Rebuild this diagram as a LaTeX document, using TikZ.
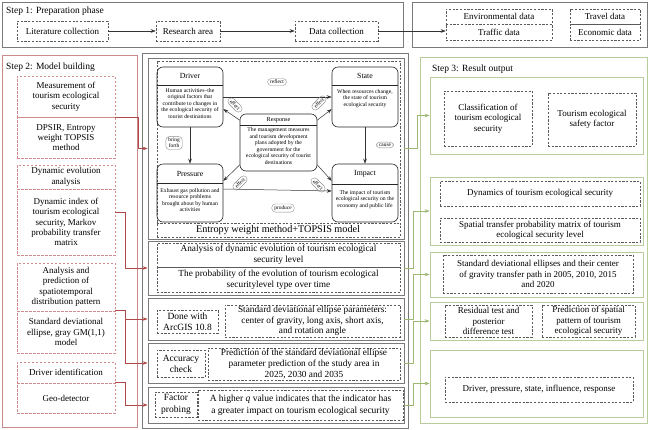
\documentclass[tikz,border=0pt]{standalone}
\usepackage{fontspec}
\setmainfont{Liberation Serif}
\usetikzlibrary{arrows.meta}
\definecolor{gboxc}{HTML}{7A7A7A}
\definecolor{gdashc}{HTML}{5A5A5A}
\definecolor{rboxc}{HTML}{C98A8A}
\definecolor{rdashc}{HTML}{D08C8C}
\definecolor{rlinec}{HTML}{B04A4A}
\definecolor{grboxc}{HTML}{B9CC9C}
\definecolor{grlinec}{HTML}{9DB873}
\tikzset{
  corners/.style n args={4}{minimum width={#3-#1}, minimum height={#4-#2}, at={({(#1+#3)/2},{(#2+#4)/2})}},
  fbox/.style={inner sep=0pt, align=center, font=\fontsize{9}{10.4}\selectfont},
  mfont/.style={font=\fontsize{9.3}{10.6}\selectfont},
  graybox/.style={fbox, draw=gboxc, line width=0.8pt},
  gdash/.style={fbox, draw=gdashc, dash pattern=on 2.2pt off 1.5pt, line width=0.55pt},
  rbox/.style={fbox, draw=rboxc, line width=0.8pt},
  rdash/.style={fbox, draw=rdashc, dash pattern=on 2.5pt off 1.5pt, line width=0.6pt},
  grbox/.style={fbox, draw=grboxc, line width=0.8pt},
  karr/.style={draw=black!80, line width=0.5pt, -{Stealth[length=5pt,width=3.6pt]}},
  rarr/.style={draw=rlinec, line width=0.6pt, -{Stealth[length=5pt,width=3.6pt]}},
  garr/.style={draw=grlinec, line width=0.6pt, -{Stealth[length=5pt,width=3.6pt]}},
  dbox/.style={draw=black!85, line width=0.6pt, rounded corners=6pt, inner sep=0pt},
  dtitle/.style={inner sep=0pt, font=\fontsize{7.8}{8.5}\selectfont},
  dbody/.style={inner sep=0pt, align=center, font=\fontsize{5.7}{6.5}\selectfont},
  pill/.style={draw=black!45, line width=0.4pt, rounded corners=3.5pt, inner xsep=2.5pt, inner ysep=1.6pt, align=center, font=\fontsize{5.4}{5.9}\selectfont},
  steplabel/.style={inner sep=0pt, anchor=west, font=\fontsize{9.5}{11}\selectfont},
}
\begin{document}
\begin{tikzpicture}[x=1pt,y=-1pt]
\useasboundingbox (0,0) rectangle (650,429);
% ---------------- Step 1 ----------------
\node[graybox, corners={2}{2}{403}{47}] (st1) {};
\node[steplabel] (st1lab) at (6,11) {Step 1: Preparation phase};
\node[gdash, corners={17}{21}{108}{41}] (lit) {Literature collection};
\node[gdash, corners={156}{21}{220}{41}] (area) {Research area};
\node[gdash, corners={295}{21}{378}{41}] (data) {Data collection};
\node[graybox, corners={412}{2}{647}{47}] (rtop) {};
\node[gdash, corners={446}{9}{552}{24}] (env) {Environmental data};
\node[gdash, corners={446}{24}{552}{40}] (traffic) {Traffic data};
\node[gdash, corners={570}{9}{640}{24}] (travel) {Travel data};
\node[gdash, corners={570}{24}{640}{40}] (econ) {Economic data};
\draw[karr] (lit) -- (area);
\draw[karr] (area) -- (data);
\draw[karr] (data.east) -- (data.east -| traffic.west);
% ---------------- Step 2 ----------------
\node[rbox, corners={2}{55}{137}{427}] (st2) {};
\node[steplabel] (st2lab) at (6,67) {Step 2: Model building};
\node[rdash, corners={17}{76}{115}{117}] (meas) {Measurement of\\tourism ecological\\security};
\node[rdash, corners={17}{117}{115}{158}] (dpsir) {DPSIR, Entropy\\weight TOPSIS\\method};
\node[rdash, corners={17}{165}{115}{189}] (dyn) {Dynamic evolution\\analysis};
\node[rdash, corners={17}{189}{115}{255}] (dynidx) {Dynamic index of\\tourism ecological\\security, Markov\\probability transfer\\matrix};
\node[rdash, corners={17}{263}{115}{311}] (anal) {Analysis and\\prediction of\\spatiotemporal\\distribution pattern};
\node[rdash, corners={17}{311}{115}{353}] (sde) {Standard deviational\\ellipse, gray GM(1,1)\\model};
\node[rdash, corners={17}{362}{115}{383}] (drvid) {Driver identification};
\node[rdash, corners={17}{383}{115}{413}] (geo) {Geo-detector};
% ---------------- Middle ----------------
\node[graybox, corners={142}{53}{408}{428}] (mid) {};
\node[graybox, corners={148}{58}{404}{239}] (p1) {};
\node[graybox, corners={148}{241}{404}{295}] (p2) {};
\node[graybox, corners={148}{298}{404}{340}] (p3) {};
\node[graybox, corners={148}{343}{404}{383}] (p4) {};
\node[graybox, corners={148}{387}{404}{423}] (p5) {};
% DPSIR panel
\node[gdash, corners={157}{61}{400}{237}] (p1d) {};
\draw[gdashc, dash pattern=on 2.2pt off 1.5pt, line width=0.55pt] (p1d.west |- 0,223) -- (p1d.east |- 0,223);
\node[inner sep=0pt, font=\fontsize{10.2}{12}\selectfont] (ewm) at (278,230.5) {Entropy weight method+TOPSIS model};
\node[dbox, corners={157}{67}{223}{127}] (driver) {};
\node[dbox, corners={332}{67}{398}{127}] (state) {};
\node[dbox, corners={157}{164}{223}{222}] (pressure) {};
\node[dbox, corners={332}{164}{398}{222}] (impact) {};
\node[dbox, corners={240}{114}{317}{171}] (response) {};
\draw[black!85, line width=0.5pt] (driver.west |- 0,85) -- (driver.east |- 0,85);
\draw[black!85, line width=0.5pt] (state.west |- 0,85) -- (state.east |- 0,85);
\draw[black!85, line width=0.5pt] (pressure.west |- 0,183) -- (pressure.east |- 0,183);
\draw[black!85, line width=0.5pt] (impact.west |- 0,184) -- (impact.east |- 0,184);
\draw[black!85, line width=0.5pt] (response.west |- 0,125) -- (response.east |- 0,125);
\node[dtitle] (drivert) at (190,76) {Driver};
\node[dtitle] (statet) at (365,76) {State};
\node[dtitle] (pressuret) at (190,173.5) {Pressure};
\node[dtitle] (impactt) at (365,174) {Impact};
\node[dtitle, font=\fontsize{6.2}{7}\selectfont] (responset) at (278.5,120) {Response};
\node[dbody, anchor=north] (driverb) at (190,88) {Human activities--the\\original factors that\\contribute to changes in\\the ecological security of\\tourist destinations};
\node[dbody, anchor=north] (stateb) at (365,89) {When resources change,\\the state of tourism\\ecological security};
\node[dbody, anchor=north] (pressureb) at (190,188) {Exhaust gas pollution and\\resource problems\\brought about by human\\activities};
\node[dbody, anchor=north] (impactb) at (365,190) {The impact of tourism\\ecological security on the\\economy and public life};
\node[dbody, anchor=north] (responseb) at (278.5,127.5) {The management measures\\and tourism development\\plans adopted by the\\government for the\\ecological security of tourist\\destinations};
\draw[karr] (driver) -- (state);
\draw[karr] (driver) -- (pressure);
\draw[karr] (state) -- (impact);
\draw[karr] ([yshift=4pt]pressure.east) -- ([yshift=2pt]impact.west);
\draw[karr] (response.150) -- (driver.-20);
\draw[karr] (response.30) -- (state.200);
\draw[karr] (response.210) -- (pressure.20);
\draw[karr] (response.-30) -- (impact.160);
\node[pill] (reflect) at (277,82) {reflect};
\node[pill] (bring) at (174,143) {bring\\forth};
\node[pill] (cause) at (385,145) {cause};
\node[pill] (produce) at (283,208) {produce};
\node[pill, rotate=-45] (eff1) at (235,105) {effect};
\node[pill, rotate=45] (eff2) at (319,103) {effect};
\node[pill, rotate=45] (eff3) at (240,183) {effect};
\node[pill, rotate=-45] (eff4) at (318,185) {effect};
% other middle panels
\node[gdash, mfont, corners={157}{243}{400}{267}] (p2a) {Analysis of dynamic evolution of tourism ecological\\security level};
\node[gdash, mfont, corners={157}{267}{400}{292}] (p2b) {The probability of the evolution of tourism ecological\\securitylevel type over time};
\node[gdash, font=\fontsize{9.5}{11}\selectfont, corners={157}{310}{218}{333}] (arcgis) {Done with\\ArcGIS 10.8};
\node[gdash, mfont, corners={225}{305}{400}{337}] (sdep) {Standard deviational ellipse parameters:\\center of gravity, long axis, short axis,\\and rotation angle};
\node[gdash, font=\fontsize{9.5}{11}\selectfont, corners={157}{350}{205}{377}] (acc) {Accuracy\\check};
\node[gdash, mfont, corners={208}{348}{400}{380}] (pred) {Prediction of the standard deviational ellipse\\parameter prediction of the study area in\\2025, 2030 and 2035};
\node[gdash, font=\fontsize{9.5}{11.5}\selectfont, corners={155}{392}{197}{417}] (factor) {Factor\\probing};
\node[gdash, font=\fontsize{9.5}{11.5}\selectfont, corners={198}{390}{403}{420}] (higher) {A higher \textit{q} value indicates that the indicator has\\a greater impact on tourism ecological security};
% ---------------- Step 3 ----------------
\node[grbox, corners={420}{57}{647}{423}] (st3) {};
\node[steplabel] (st3lab) at (432,69) {Step 3: Result output};
\node[grbox, corners={430}{77}{643}{154}] (s1) {};
\node[gdash, corners={444}{91}{532}{146}] (class) {Classification of\\tourism ecological\\security};
\node[gdash, corners={548}{93}{636}{146}] (safety) {Tourism ecological\\safety factor};
\node[grbox, corners={430}{177}{643}{245}] (s2) {};
\node[gdash, corners={440}{181}{640}{206}] (dynam) {Dynamics of tourism ecological security};
\node[gdash, corners={440}{218}{640}{242}] (spatial) {Spatial transfer probability matrix of tourism\\ecological security level};
\node[grbox, corners={430}{252}{643}{297}] (s3) {};
\node[gdash, corners={443}{255}{633}{293}] (sdes) {Standard deviational ellipses and their center\\of gravity transfer path in 2005, 2010, 2015\\and 2020};
\node[grbox, corners={430}{302}{643}{340}] (s4) {};
\node[gdash, corners={445}{305}{532}{337}] (resid) {Residual test and\\posterior\\difference test};
\node[gdash, corners={542}{305}{635}{337}] (predsp) {Prediction of spatial\\pattern of tourism\\ecological security};
\node[grbox, corners={430}{350}{643}{417}] (s5) {};
\node[gdash, corners={445}{377}{633}{402}] (dpsirout) {Driver, pressure, state, influence, response};
% ---------------- connectors ----------------
\draw[rarr] (meas.south east) -- ++(23,0) |- (p1.west);
\draw[rarr] (dynidx.east |- 0,212) -- ++(10,0) |- (p2.west);
\draw[rarr] (sde.north east) -- ++(10,0) |- (p4.west);
\draw[rarr] (sde.north east) ++(10,0) |- (p3.west);
\draw[rarr] (geo.north east) -- ++(10,0) |- (p5.west);
\draw[garr] (p1.east) -- ++(13,0) |- (s1.west);
\draw[garr] (p2.east) -- ++(9,0) |- (s2.west);
\draw[garr] (p3.east) -- ++(9,0) |- (s3.west);
\draw[garr] (p4.east) -- ++(9,0) |- (s4.west);
\draw[garr] (p5.east) -- ++(9,0) |- (s5.west);
\end{tikzpicture}
\end{document}
